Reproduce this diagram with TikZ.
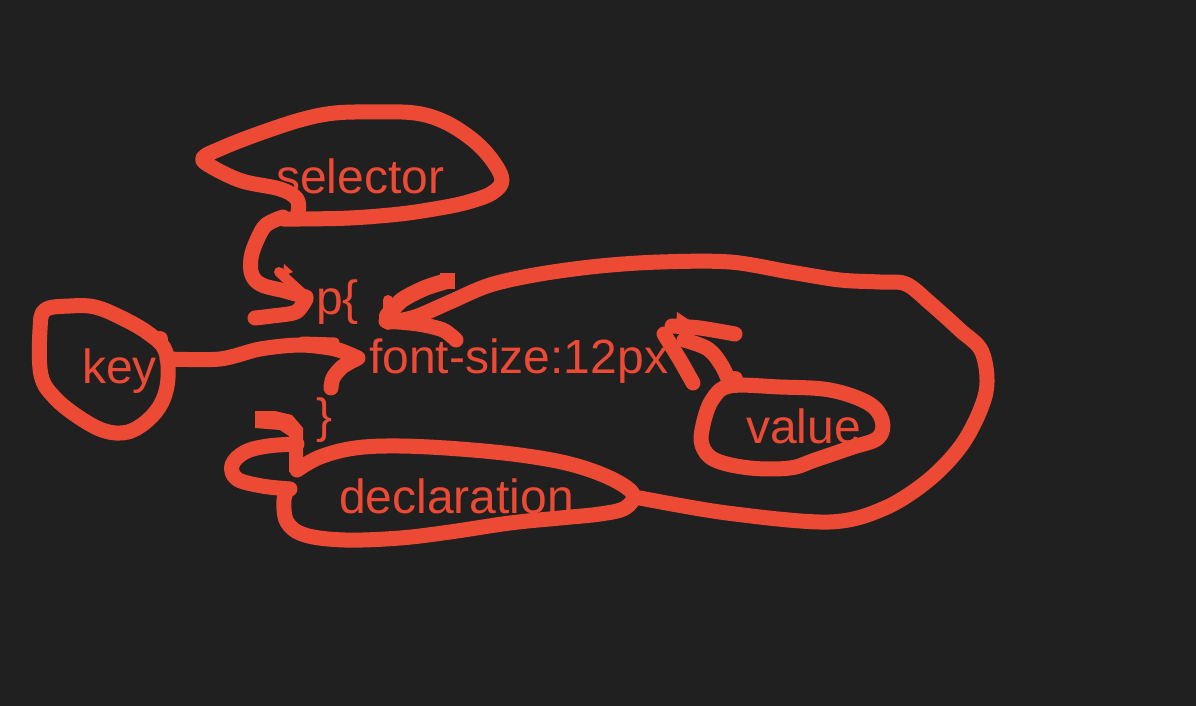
\documentclass[tikz,border=0pt]{standalone}
\usepackage{fontspec}
\setmainfont{Liberation Sans}
\definecolor{ink}{RGB}{236,74,52}
\definecolor{bg}{RGB}{32,32,32}
\tikzset{
  pen/.style={draw=ink, line width=15pt, line cap=round, line join=round},
  label/.style={text=ink, inner sep=0pt, anchor=base west, font=\fontsize{48}{48}\selectfont}
}
\begin{document}
\begin{tikzpicture}[x=1pt,y=-1pt]
\fill[bg] (0,0) rectangle (1196,706);
\useasboundingbox (0,0) rectangle (1196,706);

% texts
\node[label] (sel) at (276,193) {selector};
\node[label] (popen) at (316,314) {p\{};
\node[label] (decl) at (369,373) {font-size:12px};
\node[label] (pclose) at (316,432) {\}};
\node[label] (key) at (82,383) {key};
\node[label] (val) at (746,443) {value};
\node[label] (dcl) at (339,513) {declaration};

% selector loop
\draw[pen] plot[smooth, tension=0.6] coordinates {(298,212) (297,199) (280,189) (242,181) (212,167) (203,158) (222,148) (255,135) (300,120) (335,113) (375,112) (415,113) (445,122) (473,140) (492,160) (502,180) (492,193) (468,202) (440,208) (400,214) (350,218) (300,219) (283,219)};
% selector arrow
\draw[pen] plot[smooth, tension=0.6] coordinates {(283,217) (266,225) (257,240) (251,258) (252,275) (262,285) (285,291) (306,297)};
\draw[pen] plot[smooth, tension=0.5] coordinates {(306,299) (296,312) (272,316) (255,318)};
\draw[pen, line width=10pt] (279,272) -- (303,294);
\fill[ink] (284,264) -- (293,272) -- (283,276) -- cycle;

% key loop
\draw[pen] plot[smooth cycle, tension=0.6] coordinates {(40,330) (45,310) (70,306) (95,307) (122,318) (148,333) (165,350) (168,378) (162,402) (148,420) (128,432) (105,431) (80,418) (55,398) (41,375)};
\fill[ink] (160,339) circle (8pt);
% key line
\draw[pen] plot[smooth, tension=0.5] coordinates {(167,359) (220,359) (260,349) (300,345) (335,349) (358,358)};
\draw[pen] plot[smooth, tension=0.5] coordinates {(356,359) (342,367) (333,378) (331,388)};
\draw[pen, line width=9pt] (302,341) -- (335,342);

% } arrow and loop
\fill[ink] (255,411) -- (275,411) -- (292,415) -- (303,428) -- (303,472) -- (289,472) -- (289,436) -- (280,430) -- (255,428) -- cycle;
\draw[pen] plot[smooth, tension=0.6] coordinates {(297,444) (268,446) (245,452) (232,465) (237,479) (262,486) (290,489)};

% declaration loop
\draw[pen] plot[smooth, tension=0.6] coordinates {(297,470) (320,457) (355,448) (400,446) (460,449) (520,455) (570,464) (610,478) (633,494) (625,508) (600,514) (560,518) (510,523) (450,532) (400,538) (345,540) (305,535) (287,522) (284,500) (288,489)};

% big loop to p{
\draw[pen] plot[smooth, tension=0.55] coordinates {(640,498) (727,513) (829,522) (885,508) (931,478) (965,440) (986,392) (982,352) (960,330) (930,303) (906,284) (880,282) (840,280) (790,272) (730,262) (660,262) (600,266) (540,274) (490,285) (450,302) (415,317) (390,322)};
% p{ arrowhead
\draw[pen, line width=16pt] plot[smooth, tension=0.5] coordinates {(387,316) (402,300) (425,288) (447,281)};
\draw[pen, line cap=butt] (447,273) -- (447,289);
\draw[pen] plot[smooth, tension=0.5] coordinates {(386,321) (418,324) (443,330) (456,340)};
\draw[pen, line width=10pt] (388,300) -- (388,325);

% value loop
\draw[pen] plot[smooth cycle, tension=0.6] coordinates {(730,386) (780,387) (830,390) (868,403) (882,420) (878,438) (850,448) (815,460) (790,468) (750,468) (715,460) (702,445) (703,425) (712,400)};
\fill[ink] (735,379) circle (8pt);
% value arrow
\draw[pen] plot[smooth, tension=0.5] coordinates {(664,334) (680,360) (693,383)};
\draw[pen] plot[smooth, tension=0.5] coordinates {(672,326) (700,328) (735,334)};
\draw[pen] plot[smooth, tension=0.6] coordinates {(684,340) (708,349) (722,366) (730,384)};
\fill[ink] (677,312) -- (692,322) -- (676,330) -- cycle;
\end{tikzpicture}
\end{document}
